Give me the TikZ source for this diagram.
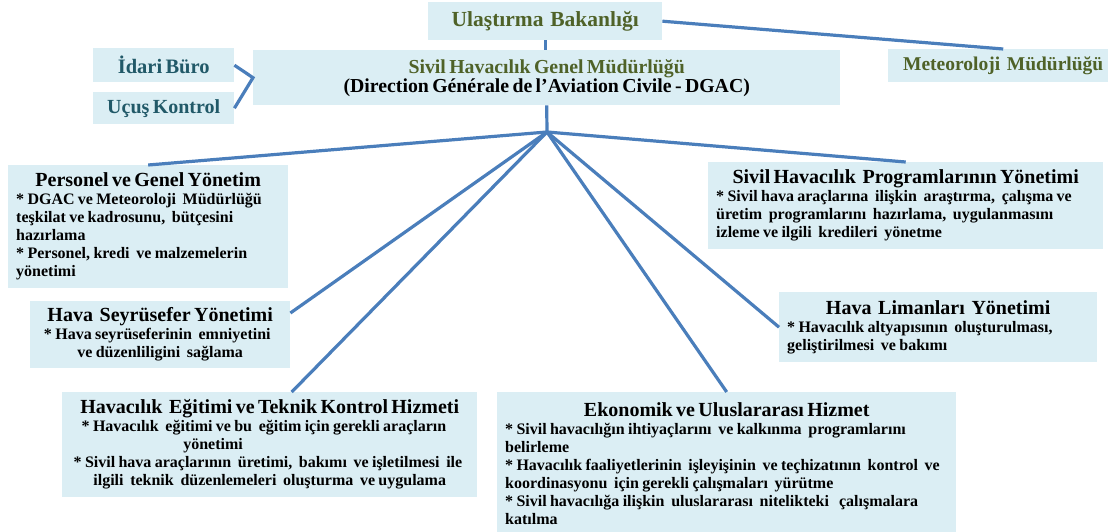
\documentclass[tikz,border=0pt]{standalone}
\usepackage{fontspec}
\setmainfont{Liberation Serif}
\definecolor{boxfill}{RGB}{219,238,244}
\definecolor{olive}{RGB}{79,98,40}
\definecolor{teal}{RGB}{33,89,104}
\definecolor{lineblue}{RGB}{74,126,187}
\tikzset{
  box/.style={fill=boxfill, anchor=north west, inner xsep=8pt, inner ysep=0pt, font=\bfseries},
  conn/.style={draw=lineblue, line width=3.2pt},
}
\newcommand{\ttl}{\fontsize{20}{22}\selectfont}
\newcommand{\bdy}{\fontsize{16}{18}\selectfont}
\newcommand{\nl}{\newline}
\begin{document}
\begin{tikzpicture}[x=1pt,y=-1pt]
\useasboundingbox (0,0) rectangle (1108,532);
% boxes
\node[box, minimum width=234, minimum height=38, text width=218, align=center] (ub) at (428,2)
  {\color{olive}\fontsize{21.5}{23}\selectfont Ulaştırma\ \ Bakanlığı};
\node[box, minimum width=230, minimum height=33, text width=214, align=center] (met) at (888,49)
  {\color{olive}\fontsize{19.5}{21}\selectfont Meteoroloji\ \ Müdürlüğü};
\node[box, minimum width=587, minimum height=55, text width=571, align=center] (sivil) at (253,50)
  {\fontsize{19.8}{23.5}\selectfont{\color{olive}Sivil Havacılık Genel Müdürlüğü}\\ (Direction Générale de l’Aviation Civile - DGAC)};
\node[box, minimum width=141, minimum height=34, text width=125, align=center] (idari) at (93,48)
  {\color{teal}\fontsize{20.5}{22}\selectfont İdari Büro};
\node[box, minimum width=141, minimum height=32, text width=125, align=center] (ucus) at (93,92)
  {\color{teal}\fontsize{20}{22}\selectfont Uçuş Kontrol};

\node[box, minimum width=280, minimum height=123, text width=264] (pers) at (8,165)
  {{\centering\ttl Personel ve Genel Yönetim\par}
   \bdy\raggedright * DGAC ve Meteoroloji\ \ Müdürlüğü\nl teşkilat ve kadrosunu,\ \ bütçesini\nl hazırlama\nl * Personel, kredi\ \ ve malzemelerin\nl yönetimi\par};
\node[box, minimum width=260, minimum height=67, text width=244] (hs) at (30,301)
  {{\centering\ttl Hava\ \ Seyrüsefer Yönetimi\par}
   {\centering\bdy * Hava seyrüseferinin\ \ emniyetini\nl ve düzenliligini\ \ sağlama\par}};
\node[box, minimum width=395, minimum height=87, text width=379] (prog) at (708,162)
  {{\centering\ttl Sivil Havacılık\ \ Programlarının Yönetimi\par}
   \bdy\raggedright * Sivil hava araçlarına\ \ ilişkin\ \ araştırma,\ \ çalışma ve\nl üretim\ \ programlarını\ \ hazırlama,\ \ uygulanmasını\nl izleme ve ilgili\ \ kredileri\ \ yönetme\par};
\node[box, minimum width=318, minimum height=70, text width=302] (hl) at (779,292)
  {{\centering\ttl Hava\ \ Limanları\ \ Yönetimi\par}
   \bdy\raggedright * Havacılık altyapısının\ \ oluşturulması,\nl geliştirilmesi\ \ ve bakımı\par};
\node[box, minimum width=415, minimum height=105, text width=399] (eg) at (62,392)
  {{\centering\ttl Havacılık\ \ Eğitimi ve Teknik Kontrol Hizmeti\par}
   {\centering\bdy * Havacılık\ \ eğitimi ve bu\ \ eğitim için gerekli araçların\nl yönetimi\nl * Sivil hava araçlarının\ \ üretimi,\ \ bakımı\ \ ve işletilmesi\ \ ile\nl ilgili\ \ teknik\ \ düzenlemeleri\ \ oluşturma\ \ ve uygulama\par}};
\node[box, minimum width=459, minimum height=142, text width=443] (eko) at (497,392)
  {{\centering\ttl Ekonomik ve Uluslararası Hizmet\par}
   \bdy\raggedright * Sivil havacılığın ihtiyaçlarını\ \ ve kalkınma\ \ programlarını\nl belirleme\nl * Havacılık faaliyetlerinin\ \ işleyişinin\ \ ve teçhizatının\ \ kontrol\ \ ve\nl koordinasyonu\ \ için gerekli çalışmaları\ \ yürütme\nl * Sivil havacılığa ilişkin\ \ uluslararası\ \ nitelikteki\ \ \ çalışmalara\nl katılma\par};

% connectors
\coordinate (hub) at (547,132);
\draw[conn] (sivil.north -| ub.south) -- (ub.south);
\draw[conn] (ub.east) -- (met.north);
\draw[conn] (idari.east) -- (sivil.west) -- (ucus.east);
\draw[conn] (sivil.south) -- (hub);
\draw[conn] (hub) -- (pers.north);
\draw[conn] (hub) -- (prog.north);
\draw[conn] (hub) -- ([yshift=-12pt]hs.north east);
\draw[conn] (hub) -- (hl.west);
\draw[conn] (hub) -- ([xshift=22pt]eg.north);
\draw[conn] (hub) -- (eko.north);
\end{tikzpicture}
\end{document}
